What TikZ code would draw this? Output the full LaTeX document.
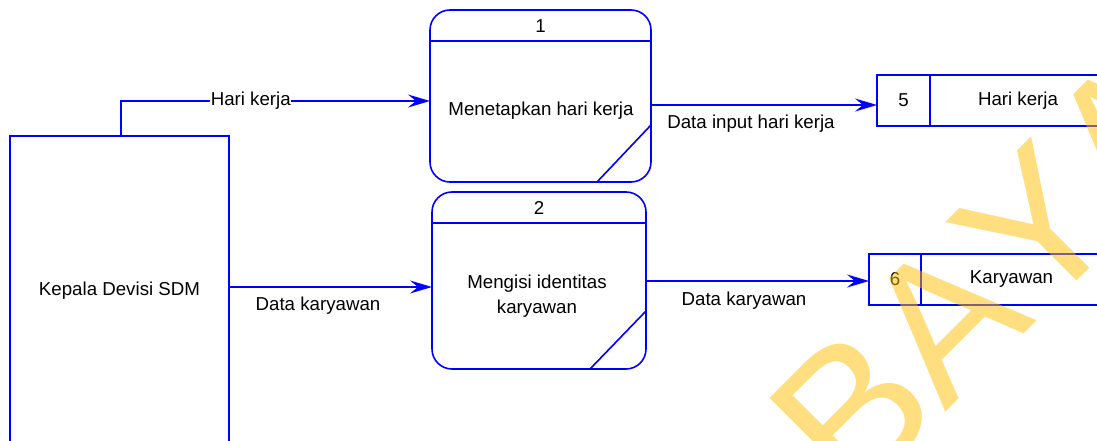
\documentclass[tikz,border=0pt]{standalone}
\usepackage{fontspec}
\setmainfont{Liberation Sans}
\newfontfamily\wmfont[Kerning=Off]{Liberation Sans}
\usetikzlibrary{arrows.meta,calc}

\definecolor{dfdblue}{RGB}{0,0,255}
\definecolor{wmyellow}{RGB}{255,190,0}

\tikzset{
  shapeline/.style={draw=dfdblue, line width=1.6pt, outer sep=0pt},
  entity/.style={shapeline, rectangle, inner sep=0pt},
  procbox/.style={shapeline, rectangle, rounded corners=20pt, inner sep=0pt},
  storebox/.style={shapeline, rectangle, inner sep=0pt, minimum height=51pt},
  flow/.style={draw=dfdblue, line width=1.6pt,
    -{Stealth[length=22pt,width=13pt,inset=8pt]}},
  txt/.style={font=\fontsize{18.7}{25}\selectfont, text=black, inner sep=1pt, align=center},
  flowlabel/.style={txt, fill=white, inner sep=0.5pt},
  watermark/.style={font=\wmfont\fontsize{195}{195}\selectfont, text=wmyellow,
    text opacity=0.5, inner sep=0pt, anchor=base west, rotate=45}
}

\begin{document}
\begin{tikzpicture}[x=1pt,y=-1pt]
\useasboundingbox (0,0) rectangle (1097,441);
\clip (0,0) rectangle (1097,441);

% external entity
\node[entity, minimum width=219pt, minimum height=310pt, txt] (e) at (119.5,291) {Kepala Devisi SDM};

% process 1
\node[procbox, minimum width=221pt, minimum height=172pt] (p1) at (540.5,96) {};
\draw[draw=dfdblue, line width=1.6pt] ([yshift=-31pt]p1.north west) -- ([yshift=-31pt]p1.north east);
\draw[draw=dfdblue, line width=1.6pt] ([xshift=-54pt]p1.south east) -- ([yshift=57pt]p1.south east);
\node[txt] (p1n) at (540.5,26) {1};
\node[txt] (p1t) at (541,111) {Menetapkan hari kerja};

% process 2
\node[procbox, minimum width=214pt, minimum height=177pt] (p2) at (539,280.5) {};
\draw[draw=dfdblue, line width=1.6pt] ([yshift=-31pt]p2.north west) -- ([yshift=-31pt]p2.north east);
\draw[draw=dfdblue, line width=1.6pt] ([xshift=-56pt]p2.south east) -- ([yshift=58pt]p2.south east);
\node[txt] (p2n) at (539,208) {2};
\node[txt] (p2t) at (537,296.5) {Mengisi identitas\\karyawan};

% data stores
\node[storebox, minimum width=53pt, txt] (s5id) at (903.5,100.5) {5};
\node[storebox, minimum width=176pt, anchor=west, txt] (s5) at (s5id.east) {Hari kerja};
\node[storebox, minimum width=52pt, txt] (s6id) at (895,279.5) {6};
\node[storebox, minimum width=181pt, anchor=west, txt] (s6) at (s6id.east) {Karyawan};

% data flows
\draw[flow] ([xshift=1.5pt]e.north) |- ([yshift=-5pt]p1.west)
  node[flowlabel, pos=0.71] (l1) {Hari kerja};
\draw[flow] ([yshift=4pt]e.east) -- ([yshift=4pt]e.east -| p2.west);
\node[txt] (l2) at (318,306) {Data karyawan};

\draw[flow] ([yshift=-4.5pt]s5id.west -| p1.east) -- ([yshift=-4.5pt]s5id.west);
\node[txt] (l3) at (751,124) {Data input hari kerja};

\draw[flow] ([yshift=-1.5pt]s6id.west -| p2.east) -- ([yshift=-1.5pt]s6id.west);
\node[txt] (l4) at (744,301) {Data karyawan};

% watermark
\node[watermark] (wm) at (853.8,504.6) {BAYA};
\end{tikzpicture}
\end{document}
